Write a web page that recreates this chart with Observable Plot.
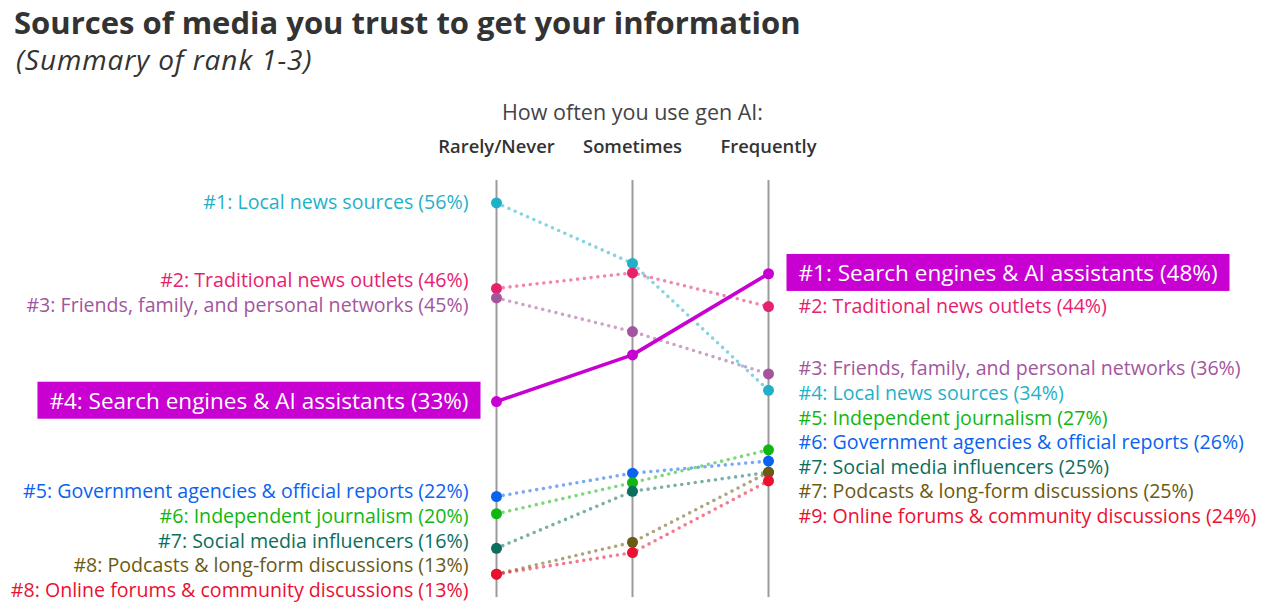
<!DOCTYPE html>
<html>
<head>
<meta charset="utf-8">
<script src="https://cdn.jsdelivr.net/npm/d3@7"></script>
<script src="https://cdn.jsdelivr.net/npm/@observablehq/plot@0.6"></script>
<style>
  html, body { margin: 0; padding: 0; background: #fff; }
  body { width: 1271px; height: 613px; overflow: hidden; font-family: "Open Sans", Lato, sans-serif; }
  #head { height: 82px; position: relative; }
  #title { position: absolute; left: 14px; top: 1px; font-size: 31px; font-weight: 700; color: #333; }
  #subtitle { position: absolute; left: 16px; top: 40px; font-size: 28px; font-style: italic; color: #333; letter-spacing: 0.9px; }
  #chart svg { display: block; }
</style>
</head>
<body>
<div id="head">
  <div id="title">Sources of media you trust to get your information</div>
  <div id="subtitle">(Summary of rank 1-3)</div>
</div>
<div id="chart"></div>
<script>
// ---- data ----
const frequencyLevels = ["Rarely/Never", "Sometimes", "Frequently"];
const headerText = "How often you use gen AI:";
const sources = [
  "Local news sources",
  "Traditional news outlets",
  "Friends, family, and personal networks",
  "Search engines & AI assistants",
  "Government agencies & official reports",
  "Independent journalism",
  "Social media influencers",
  "Podcasts & long-form discussions",
  "Online forums & community discussions"
];
const rarelyNever = [56, 46.1, 45, 33, 22, 20, 16, 13, 13];
const sometimes   = [49, 47.9, 41.1, 38.4, 24.7, 23.6, 22.6, 16.7, 15.5];
const frequently  = [34.3, 44, 36.2, 47.8, 26.1, 27.4, 24.8, 24.8, 23.8];
const rankRarely     = [1, 2, 3, 4, 5, 6, 7, 8, 8];
const rankFrequently = [4, 2, 3, 1, 6, 5, 7, 7, 9];
const colors = ["#1fb1c7", "#e6226f", "#a3569d", "#c800d2", "#0a62f0", "#12b612", "#0c6e5c", "#6b5a12", "#eb0f32"];
const highlighted = "Search engines & AI assistants";

// ---- layout ----
const W = 1271, H = 531;
const margin = {top: 98, right: 503, bottom: 16, left: 495};
const yDomain = [10.3, 58.6];
const yPix = d3.scaleLinear().domain(yDomain).range([H - margin.bottom, margin.top]);

// long table
const series = [rarelyNever, sometimes, frequently];
const long = [];
sources.forEach((s, i) => frequencyLevels.forEach((f, j) => long.push({source: s, freq: f, value: series[j][i], color: colors[i], i})));

// simple label dodge (relaxation) in pixel space
function dodge(values, gap) {
  const items = values.map((v, i) => ({i, y: yPix(v)})).sort((a, b) => a.y - b.y || a.i - b.i);
  for (let it = 0; it < 400; it++) {
    for (let k = 1; k < items.length; k++) {
      const d = items[k].y - items[k - 1].y;
      if (d < gap) { const m = (gap - d) / 2; items[k - 1].y -= m; items[k].y += m; }
    }
  }
  const out = new Array(values.length);
  items.forEach(o => out[o.i] = yPix.invert(o.y));
  return out;
}
const leftY = dodge(rarelyNever, 24.6);
const rightY = dodge(frequently, 24.6);
const fmt = v => `${Math.round(v)}%`;
const leftLabels = sources.map((s, i) => ({source: s, y: leftY[i], color: colors[i], hl: s === highlighted,
  text: `#${rankRarely[i]}: ${s} (${fmt(rarelyNever[i])})`}));
const rightLabels = sources.map((s, i) => ({source: s, y: rightY[i], color: colors[i], hl: s === highlighted,
  text: `#${rankFrequently[i]}: ${s} (${fmt(frequently[i])})`}));

const plot = Plot.plot({
  width: W, height: H,
  marginTop: margin.top, marginRight: margin.right, marginBottom: margin.bottom, marginLeft: margin.left,
  style: {fontFamily: "'Open Sans', Lato, sans-serif", fontSize: "18px", color: "#333", background: "#fff"},
  x: {type: "point", domain: frequencyLevels, padding: 0},
  y: {domain: yDomain, axis: null},
  marks: [
    Plot.ruleX(frequencyLevels, {stroke: "#9b9b9b", strokeWidth: 2}),
    Plot.line(long.filter(d => d.source !== highlighted), {x: "freq", y: "value", z: "source", stroke: "color",
      strokeWidth: 3.6, strokeOpacity: 0.55, strokeDasharray: "0,6.8", strokeLinecap: "round"}),
    Plot.line(long.filter(d => d.source === highlighted), {x: "freq", y: "value", z: "source", stroke: "color", strokeWidth: 3.6}),
    Plot.dot(long, {x: "freq", y: "value", fill: "color", r: 5.5}),
    Plot.text(leftLabels, {x: () => frequencyLevels[0], y: "y", text: "text", fill: d => d.hl ? "#fff" : d.color,
      textAnchor: "end", dx: -28, fontSize: d => d.hl ? 22.5 : 19.6}),
    Plot.text(rightLabels, {x: () => frequencyLevels[2], y: "y", text: "text", fill: d => d.hl ? "#fff" : d.color,
      textAnchor: "start", dx: 30, fontSize: d => d.hl ? 22.5 : 19.6}),
    Plot.axisX({anchor: "top", tickSize: 0, tickPadding: 28, fontSize: 18.4, fontWeight: 600, label: null, fill: "#333"}),
    Plot.text([headerText], {x: () => frequencyLevels[1], frameAnchor: "top", dy: -76, text: d => d, fontSize: 21.5, fill: "#444"})
  ]
});
document.getElementById("chart").appendChild(plot);

// highlight boxes behind the highlighted labels
d3.select(plot).selectAll("text").filter(function () { return this.textContent.includes(highlighted); }).each(function () {
  const b = this.getBBox();
  const padX = 12, padY = 3;
  d3.select(this.parentNode).insert("rect", () => this)
    .attr("transform", this.getAttribute("transform"))
    .attr("x", b.x - padX).attr("y", b.y - padY).attr("width", b.width + 2 * padX).attr("height", b.height + 2 * padY)
    .attr("fill", "#c800d2");
});
</script>
</body>
</html>
